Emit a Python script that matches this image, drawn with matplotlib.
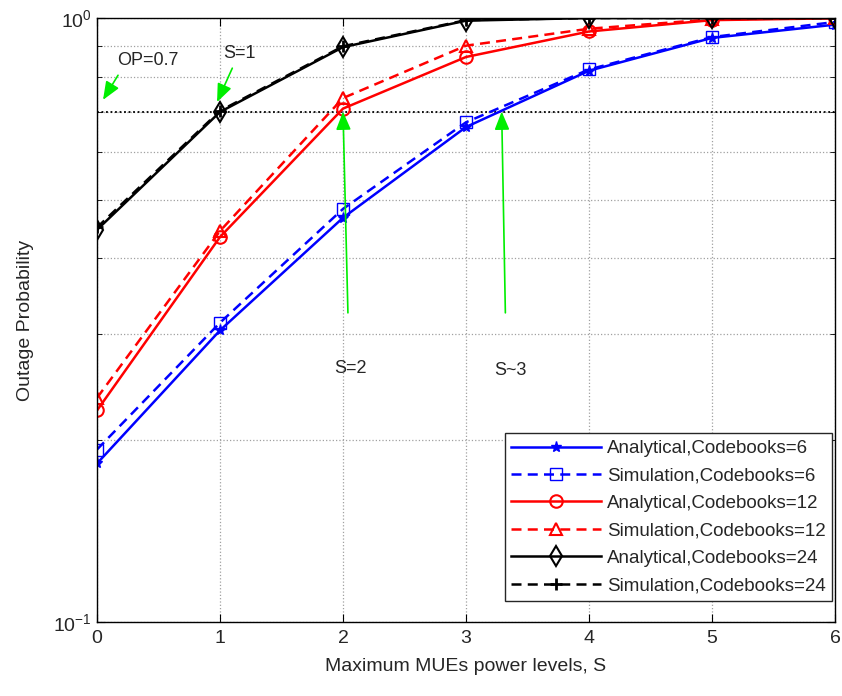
import numpy as np
import matplotlib
matplotlib.use("Agg")
import matplotlib.pyplot as plt
from matplotlib.ticker import LogLocator, NullFormatter

plt.rcParams['font.family'] = ['Liberation Sans', 'DejaVu Sans']

# Data
S = [0, 1, 2, 3, 4, 5, 6]
ana_cb6 = [0.183, 0.304, 0.467, 0.660, 0.818, 0.927, 0.975]
sim_cb6 = [0.193, 0.313, 0.483, 0.672, 0.822, 0.930, 0.985]
ana_cb12 = [0.224, 0.434, 0.708, 0.862, 0.950, 0.992, 0.999]
sim_cb12 = [0.235, 0.444, 0.737, 0.900, 0.960, 0.995, 1.0]
ana_cb24 = [0.446, 0.699, 0.895, 0.990, 1.0, 1.0, 1.0]
sim_cb24 = [0.450, 0.702, 0.898, 0.992, 1.0, 1.0, 1.0]
op_target = 0.7

fig = plt.figure(figsize=(8.42, 6.96), dpi=100)
ax = fig.add_axes([0.1152, 0.1063, 0.8765, 0.8678])

dash = (0, (4, 2.5))
ax.plot(S, ana_cb6, color='b', lw=1.8, marker='*', ms=8,
        label='Analytical,Codebooks=6')
ax.plot(S, sim_cb6, color='b', lw=1.8, ls=dash, marker='s', ms=8, mfc='none',
        label='Simulation,Codebooks=6')
ax.plot(S, ana_cb12, color='r', lw=1.8, marker='o', ms=9, mfc='none', mew=1.5,
        label='Analytical,Codebooks=12')
ax.plot(S, sim_cb12, color='r', lw=1.8, ls=dash, marker='^', ms=9, mfc='none', mew=1.5,
        label='Simulation,Codebooks=12')
ax.plot(S, ana_cb24, color='k', lw=1.8, marker='d', ms=10, mfc='none', mew=1.5,
        label='Analytical,Codebooks=24')
ax.plot(S, sim_cb24, color='k', lw=1.8, ls=dash, marker='+', ms=9, mew=2,
        label='Simulation,Codebooks=24')

ax.axhline(op_target, color='k', ls=(0, (1, 1.5)), lw=1.3, zorder=1)

ax.set_yscale('log')
ax.set_xlim(0, 6)
ax.set_ylim(0.1, 1.0)
ax.set_xticks(S)
ax.yaxis.set_major_locator(LogLocator(base=10))
ax.yaxis.set_minor_locator(LogLocator(base=10, subs=np.arange(2, 10)))
ax.yaxis.set_minor_formatter(NullFormatter())

ax.grid(True, which='both', axis='y', ls=':', color='#a0a0a0', lw=0.9)
ax.grid(True, which='major', axis='x', ls=':', color='#a0a0a0', lw=0.9)
ax.set_axisbelow(True)

ax.tick_params(which='both', direction='in', top=True, right=True,
               labelsize=14, colors='k', labelcolor='#262626')
ax.tick_params(which='major', length=6)
ax.tick_params(which='minor', length=3.5)
ax.tick_params(axis='x', pad=6)
for sp in ax.spines.values():
    sp.set_linewidth(1.0)

ax.set_xlabel('Maximum MUEs power levels, S', fontsize=14, color='#262626',
              labelpad=8)
ax.set_ylabel('Outage Probability', fontsize=14, color='#262626', labelpad=14)

green = '#00ee00'
arrow = dict(arrowstyle='-|>,head_length=1.1,head_width=0.45', color=green,
             lw=1.2, shrinkA=0, shrinkB=0)
ax.annotate('', xy=(0.049, 0.732), xytext=(0.171, 0.804), arrowprops=arrow)
ax.annotate('', xy=(0.976, 0.726), xytext=(1.10, 0.826), arrowprops=arrow)
ax.annotate('', xy=(2.0, 0.70), xytext=(2.04, 0.325), arrowprops=arrow)
ax.annotate('', xy=(3.29, 0.70), xytext=(3.32, 0.325), arrowprops=arrow)
ax.text(0.415, 0.852, 'OP=0.7', fontsize=13, ha='center', va='center', color='#262626')
ax.text(1.16, 0.875, 'S=1', fontsize=13, ha='center', va='center', color='#262626')
ax.text(2.06, 0.263, 'S=2', fontsize=13, ha='center', va='center', color='#262626')
ax.text(3.36, 0.261, 'S~3', fontsize=13, ha='center', va='center', color='#262626')

leg = ax.legend(loc='lower right', bbox_to_anchor=(0.996, 0.035),
                fontsize=13.5, handlelength=4.8,
                fancybox=False, framealpha=1, edgecolor='#262626',
                borderpad=0.35, labelspacing=0.55, handletextpad=0.3,
                borderaxespad=0)
leg.get_frame().set_linewidth(1.0)
for t in leg.get_texts():
    t.set_color('#262626')

fig.savefig('out.png', dpi=100)
